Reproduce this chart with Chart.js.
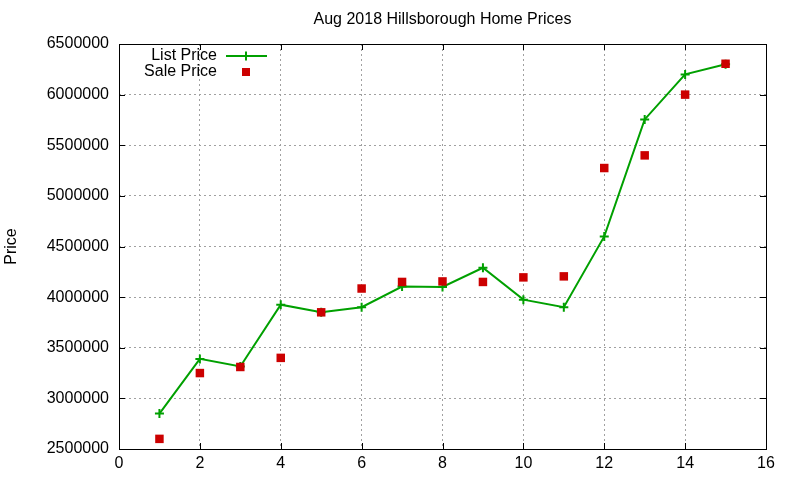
<!DOCTYPE html>
<html>
<head>
<meta charset="utf-8">
<script src="https://cdn.jsdelivr.net/npm/chart.js@4.4.1/dist/chart.umd.min.js"></script>
<style>
  html, body { margin: 0; padding: 0; background: #fff; }
  #wrap { width: 800px; height: 480px; }
</style>
</head>
<body>
<div id="wrap"><canvas id="priceChart"></canvas></div>
<script>
// donnees
const months = [1, 2, 3, 4, 5, 6, 7, 8, 9, 10, 11, 12, 13, 14, 15];
const listPrice = [2850000, 3390000, 3315000, 3925000, 3850000, 3900000, 4105000, 4100000, 4290000, 3975000, 3900000, 4600000, 5755000, 6200000, 6300000];
const salePrice = [2600000, 3250000, 3310000, 3400000, 3850000, 4085000, 4150000, 4155000, 4150000, 4195000, 4205000, 5275000, 5400000, 6000000, 6305000];
const xTicks = [0, 2, 4, 6, 8, 10, 12, 14, 16];
const yTicks = [2500000, 3000000, 3500000, 4000000, 4500000, 5000000, 5500000, 6000000, 6500000];
const chartTitle = 'Aug 2018 Hillsborough Home Prices';

const GREEN = 'rgb(0, 160, 0)';
const RED = 'rgb(204, 0, 0)';
const FONT = 'Liberation Sans, Arial, sans-serif';

// titre centre sur la zone de trace, cadre noir + graduations vers l'interieur (style gnuplot)
const frame = {
    id: 'frame',
    afterDatasetsDraw(chart) {
        const { ctx, chartArea: a, scales } = chart;
        ctx.save();
        ctx.font = '16px ' + FONT;
        ctx.fillStyle = '#000';
        ctx.textAlign = 'center';
        ctx.textBaseline = 'middle';
        ctx.fillText(chartTitle, (a.left + a.right) / 2, 20);

        ctx.strokeStyle = '#000';
        ctx.lineWidth = 1;
        ctx.beginPath();
        xTicks.forEach(v => {
            const px = Math.round(scales.x.getPixelForValue(v)) + 0.5;
            ctx.moveTo(px, a.bottom); ctx.lineTo(px, a.bottom - 6);
            ctx.moveTo(px, a.top); ctx.lineTo(px, a.top + 6);
        });
        yTicks.forEach(v => {
            const py = Math.round(scales.y.getPixelForValue(v)) + 0.5;
            ctx.moveTo(a.left, py); ctx.lineTo(a.left + 6, py);
            ctx.moveTo(a.right, py); ctx.lineTo(a.right - 6, py);
        });
        ctx.stroke();
        ctx.strokeRect(Math.round(a.left) + 0.5, Math.round(a.top) + 0.5,
            Math.round(a.right - a.left), Math.round(a.bottom - a.top));

        // legende a l'interieur, en haut a gauche
        ctx.textAlign = 'right';
        const ds = chart.data.datasets;
        ctx.fillText(ds[0].label, 217, 56);
        ctx.fillText(ds[1].label, 217, 72);
        ctx.strokeStyle = GREEN;
        ctx.lineWidth = 2;
        ctx.beginPath();
        ctx.moveTo(226, 56); ctx.lineTo(267, 56);
        ctx.moveTo(246, 51.5); ctx.lineTo(246, 60.5);
        ctx.stroke();
        ctx.fillStyle = RED;
        ctx.fillRect(242, 68, 8, 8);
        ctx.restore();
    }
};

const ctxPrice = document.getElementById('priceChart').getContext('2d');
new Chart(ctxPrice, {
    type: 'line',
    data: {
        datasets: [
            {
                label: 'List Price',
                data: months.map((m, i) => ({ x: m, y: listPrice[i] })),
                borderColor: GREEN,
                backgroundColor: GREEN,
                borderWidth: 2,
                pointStyle: 'cross',
                pointRadius: 4.5,
                pointBorderWidth: 2,
                tension: 0,
                order: 2
            },
            {
                label: 'Sale Price',
                data: months.map((m, i) => ({ x: m, y: salePrice[i] })),
                showLine: false,
                borderColor: RED,
                backgroundColor: RED,
                pointStyle: 'rect',
                pointRadius: 6,
                pointBorderWidth: 0,
                order: 1
            }
        ]
    },
    options: {
        responsive: true,
        maintainAspectRatio: false,
        animation: false,
        layout: { padding: { left: 0, right: 34, top: 44, bottom: 0 } },
        plugins: {
            legend: { display: false },
            tooltip: { enabled: false },
            title: { display: false }
        },
        scales: {
            x: {
                type: 'linear',
                min: 0,
                max: 16,
                afterBuildTicks: s => { s.ticks = xTicks.map(v => ({ value: v })); },
                afterFit: s => { s.height = 31; },
                grid: { color: '#a0a0a0', drawTicks: false },
                border: { display: false, dash: [2, 3] },
                ticks: { color: '#000', padding: 5, font: { family: FONT, size: 16 } }
            },
            y: {
                type: 'linear',
                min: 2500000,
                max: 6500000,
                afterBuildTicks: s => { s.ticks = yTicks.map(v => ({ value: v })); },
                afterFit: s => { s.width = 119; },
                grid: { color: '#a0a0a0', drawTicks: false },
                border: { display: false, dash: [2, 3] },
                ticks: { color: '#000', padding: 10, font: { family: FONT, size: 16 }, callback: v => String(v) },
                title: {
                    display: true,
                    text: 'Price',
                    color: '#000',
                    font: { family: FONT, size: 16 },
                    padding: { top: 2, bottom: 0 }
                }
            }
        }
    },
    plugins: [frame]
});
</script>
</body>
</html>
